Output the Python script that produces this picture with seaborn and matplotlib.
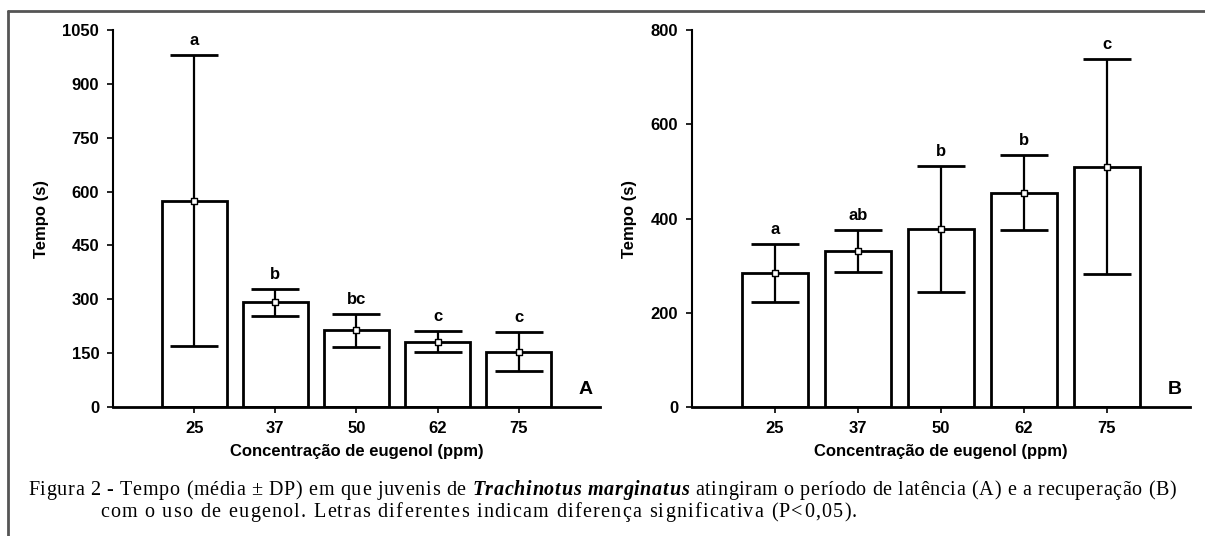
import matplotlib
matplotlib.use("Agg")
import matplotlib.pyplot as plt
from matplotlib.font_manager import FontProperties
import numpy as np
import pandas as pd
import seaborn as sns

# data
doses = ["25", "37", "50", "62", "75"]

latency_mean = [575, 292, 214, 182, 154]
latency_sd = [405, 38, 46, 30, 55]
latency_letters = ["a", "b", "bc", "c", "c"]

recovery_mean = [285, 331, 378, 455, 510]
recovery_sd = [62, 45, 133, 80, 228]
recovery_letters = ["a", "ab", "b", "b", "c"]

latency_ticks = [0, 150, 300, 450, 600, 750, 900, 1050]
recovery_ticks = [0, 200, 400, 600, 800]

caption_1 = "Figura 2 - Tempo (média ± DP) em que juvenis de "
species = "Trachinotus marginatus"
caption_2 = " atingiram o período de latência (A) e a recuperação (B)"
caption_3 = "com o uso de eugenol. Letras diferentes indicam diferença significativa (P<0,05)."

sns.set_style("ticks", {"axes.edgecolor": "black", "text.color": "black",
                        "axes.labelcolor": "black", "xtick.color": "black",
                        "ytick.color": "black"})
plt.rcParams["font.family"] = ["Liberation Sans", "DejaVu Sans"]

FONT_W = "bold"
CAP_SIZE = 14.5


def draw_panel(ax, means, sds, letters, yticks, tag):
    df = pd.DataFrame({"dose": doses, "tempo": means})
    sns.barplot(data=df, x="dose", y="tempo", color="white", edgecolor="black",
                linewidth=2, width=0.8, errorbar=None, ax=ax)
    for p in ax.patches:
        p.set_zorder(2)
    x = np.arange(len(doses))
    ax.errorbar(x, means, yerr=sds, fmt="none", ecolor="black",
                elinewidth=1.6, capsize=17.5, capthick=2, zorder=10)
    ax.scatter(x, means, marker="s", s=22, facecolor="white",
               edgecolor="black", linewidth=1, zorder=11)
    for xi, m, s, lab in zip(x, means, sds, letters):
        ax.annotate(lab, (xi, m + s), xytext=(0, 5), textcoords="offset points",
                    ha="center", va="bottom", fontsize=12, fontweight=FONT_W)

    ax.set_xlim(-1.0, 5.0)
    ax.set_ylim(0, yticks[-1])
    ax.set_yticks(yticks)
    ax.set_yticklabels([str(t) for t in yticks], fontsize=12, fontweight=FONT_W)
    ax.set_xticklabels(doses, fontsize=12, fontweight=FONT_W)
    ax.set_xlabel("Concentração de eugenol (ppm)", fontsize=12,
                  fontweight=FONT_W, labelpad=6)
    ax.set_ylabel("Tempo (s)", fontsize=12, fontweight=FONT_W, labelpad=10)
    ax.tick_params(axis="both", direction="out", length=4, width=1.2, pad=6)
    sns.despine(ax=ax)
    ax.spines["left"].set_linewidth(1.5)
    ax.spines["bottom"].set_linewidth(2)
    ax.text(0.985, 0.025, tag, transform=ax.transAxes, ha="right", va="bottom",
            fontsize=14, fontweight="bold")


def tracked_line(fig, segments, left_px, right_px, base_px):
    """Place a caption line char by char, spreading it from left_px to right_px."""
    renderer = fig.canvas.get_renderer()
    scale = fig.dpi / 72.0
    chars = []
    for txt, wt, st in segments:
        prop = FontProperties(family=["Liberation Serif", "DejaVu Serif"],
                              size=CAP_SIZE, weight=wt, style=st)
        ref_w = renderer.get_text_width_height_descent("a", prop, ismath=False)[0]
        for c in txt:
            w = renderer.get_text_width_height_descent("a" + c, prop, ismath=False)[0] - ref_w
            chars.append((c, prop, w))
    extra = (right_px - left_px - sum(w for _, _, w in chars)) / (len(chars) - 1)
    xpos = left_px
    for c, prop, w in chars:
        if c != " ":
            fig.text(xpos / fig.bbox.width, 1 - base_px / fig.bbox.height, c,
                     fontproperties=prop, va="baseline", ha="left")
        xpos += w + extra


fig = plt.figure(figsize=(12.05, 5.36), dpi=100)
ax_a = fig.add_axes([0.0938, 0.2407, 0.404, 0.703])
ax_b = fig.add_axes([0.5743, 0.2407, 0.413, 0.703])

draw_panel(ax_a, latency_mean, latency_sd, latency_letters, latency_ticks, "A")
draw_panel(ax_b, recovery_mean, recovery_sd, recovery_letters, recovery_ticks, "B")

# frame around the figure (top and left edges)
fig.add_artist(plt.Line2D([8 / 1205, 1], [1 - 11 / 536] * 2, color="#555555", lw=2))
fig.add_artist(plt.Line2D([8 / 1205] * 2, [0, 1 - 11 / 536], color="#555555", lw=2))

tracked_line(fig, [(caption_1, "normal", "normal"),
                   (species, "bold", "italic"),
                   (caption_2, "normal", "normal")], 28, 1176, 495)
tracked_line(fig, [(caption_3, "normal", "normal")], 100, 857, 517)

fig.savefig("out.png", dpi=100)
